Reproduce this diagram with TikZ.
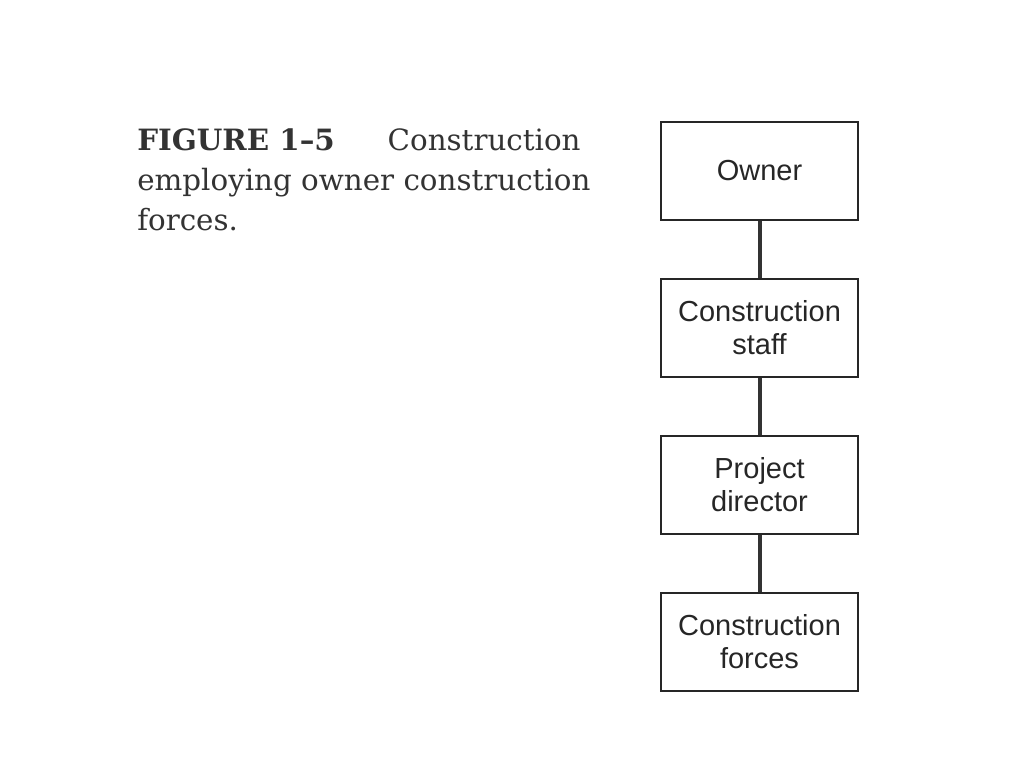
\documentclass[tikz,border=0pt]{standalone}
\usepackage{fontspec}
\newfontfamily\boxfont{Liberation Sans}
\newfontfamily\capfont{DejaVu Serif}
\usetikzlibrary{positioning}

\begin{document}
\begin{tikzpicture}[
      , x=0.75pt, y=-0.75pt
      , unit/.style={rectangle, draw, line width=1.5pt, color=black!85, text=black!85,
          minimum width=147.75pt, minimum height=73.5pt, inner sep=0pt,
          align=center, font=\boxfont\fontsize{21.75}{24.75}\selectfont}
      , link/.style={line width=3pt, color=black!80}
      , on grid
      , node distance=117.75pt
      ]

      \useasboundingbox (0,0) rectangle (1024,768);

      \node[unit] (owner) at (759.5,171) {Owner};
      \node[unit, below = of owner] (staff) {Construction\\staff};
      \node[unit, below = of staff] (director) {Project\\director};
      \node[unit, below = of director] (forces) {Construction\\forces};

      \draw[link] (owner) -- (staff);
      \draw[link] (staff) -- (director);
      \draw[link] (director) -- (forces);

      \node[anchor=north west, align=left, inner sep=0pt, text=black!80,
          font=\capfont\fontsize{22}{30}\selectfont] (caption) at (137,128)
          {\textbf{FIGURE 1–5}\hspace{1.8em}Construction\\
           employing owner construction\\
           forces.};
    \end{tikzpicture}
\end{document}
